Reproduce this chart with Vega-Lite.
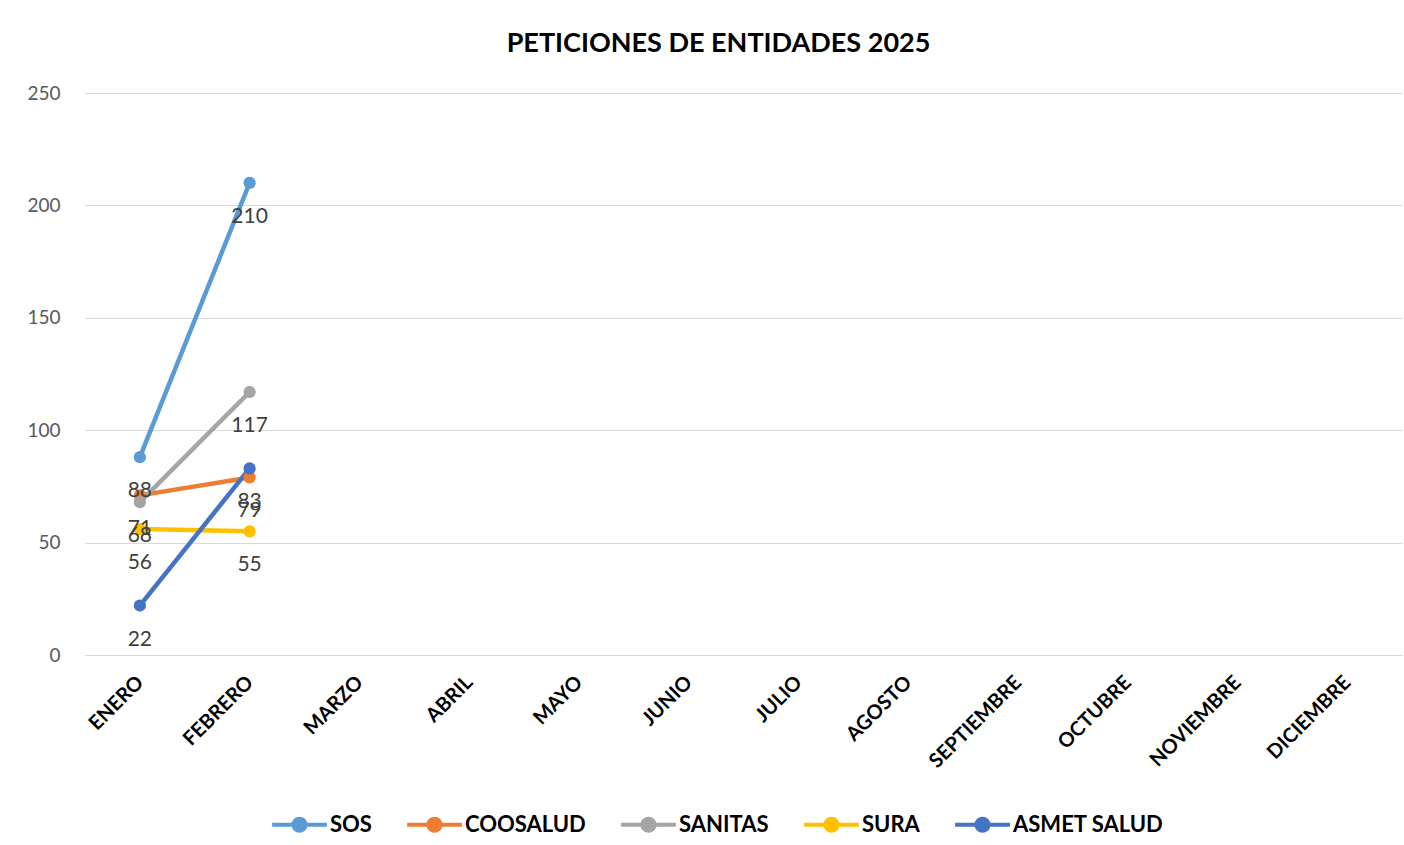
{
  "$schema": "https://vega.github.io/schema/vega-lite/v6.json",
  "autosize": "none",
  "width": 1317,
  "height": 562,
  "padding": {"left": 85, "top": 93, "right": 2, "bottom": 190},
  "background": "white",
  "config": {"view": {"stroke": null}},
  "title": {
    "text": "PETICIONES DE ENTIDADES 2025",
    "font": "Lato",
    "fontSize": 27,
    "fontWeight": "bold",
    "color": "#000000",
    "anchor": "middle",
    "frame": "group",
    "dx": -25,
    "offset": 26
  },
  "data": {
    "values": [
      {"mes": "ENERO", "entidad": "SOS", "valor": 88},
      {"mes": "FEBRERO", "entidad": "SOS", "valor": 210},
      {"mes": "ENERO", "entidad": "COOSALUD", "valor": 71},
      {"mes": "FEBRERO", "entidad": "COOSALUD", "valor": 79},
      {"mes": "ENERO", "entidad": "SANITAS", "valor": 68},
      {"mes": "FEBRERO", "entidad": "SANITAS", "valor": 117},
      {"mes": "ENERO", "entidad": "SURA", "valor": 56},
      {"mes": "FEBRERO", "entidad": "SURA", "valor": 55},
      {"mes": "ENERO", "entidad": "ASMET SALUD", "valor": 22},
      {"mes": "FEBRERO", "entidad": "ASMET SALUD", "valor": 83}
    ]
  },
  "encoding": {
    "x": {
      "field": "mes",
      "type": "nominal",
      "scale": {"domain": ["ENERO","FEBRERO","MARZO","ABRIL","MAYO","JUNIO","JULIO","AGOSTO","SEPTIEMBRE","OCTUBRE","NOVIEMBRE","DICIEMBRE"], "paddingInner": 0, "paddingOuter": 0},
      "axis": {
        "title": null,
        "labelAngle": -45,
        "labelAlign": "right",
        "labelBaseline": "middle",
        "labelFont": "Lato",
        "labelFontSize": 20,
        "labelFontWeight": "bold",
        "labelColor": "#000000",
        "labelPadding": 24,
        "domainColor": "#d9d9d9",
        "domainWidth": 1,
        "ticks": false,
        "grid": false
      }
    },
    "y": {
      "field": "valor",
      "type": "quantitative",
      "scale": {"domain": [0, 250]},
      "axis": {
        "title": null,
        "values": [0, 50, 100, 150, 200, 250],
        "labelFont": "Lato",
        "labelFontSize": 19,
        "labelColor": "#595959",
        "labelPadding": 25,
        "domain": false,
        "ticks": false,
        "gridColor": "#d9d9d9",
        "gridWidth": 1
      }
    },
    "color": {
      "field": "entidad",
      "type": "nominal",
      "scale": {
        "domain": ["SOS","COOSALUD","SANITAS","SURA","ASMET SALUD"],
        "range": ["#5B9BD5","#ED7D31","#A5A5A5","#FFC000","#4472C4"]
      },
      "legend": {
        "title": null,
        "orient": "none",
        "legendX": 185,
        "legendY": 702,
        "direction": "horizontal",
        "labelFont": "Lato",
        "labelFontSize": 22,
        "labelFontWeight": "bold",
        "labelColor": "#000000",
        "symbolType": "M-1,0L1,0M0.22,0A0.22,0.22 0 1,1 -0.22,0A0.22,0.22 0 1,1 0.22,0",
        "symbolSize": 3000,
        "symbolStrokeWidth": 4,
        "labelOffset": 1,
        "columnPadding": 27
      }
    }
  },
  "layer": [
    {"mark": {"type": "line", "strokeWidth": 4.5, "point": {"size": 150, "filled": true}}},
    {
      "mark": {"type": "text", "dy": 34, "font": "Lato", "fontSize": 21, "color": "#404040"},
      "encoding": {"text": {"field": "valor", "type": "quantitative"}, "color": {"value": "#404040"}}
    }
  ]
}
